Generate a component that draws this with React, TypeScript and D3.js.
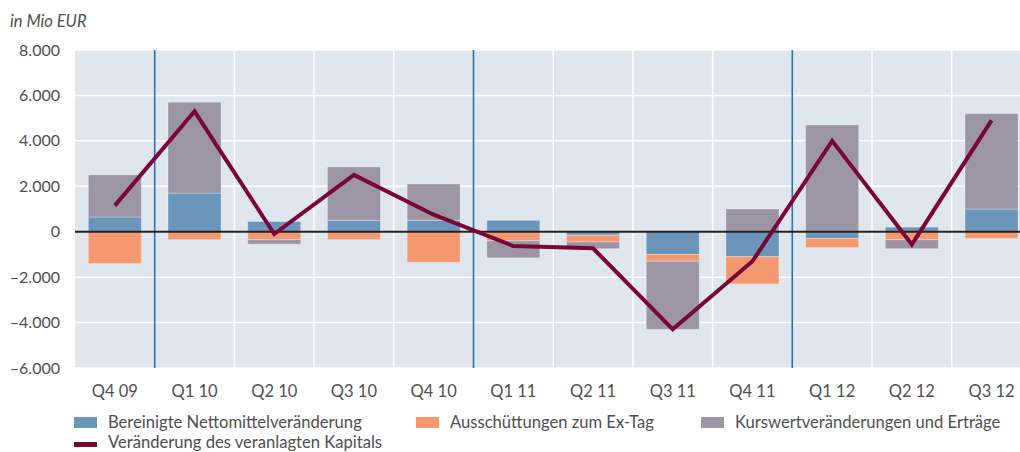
import React from "react";
import * as d3 from "d3";

const categories = ["Q4 09", "Q1 10", "Q2 10", "Q3 10", "Q4 10", "Q1 11", "Q2 11", "Q3 11", "Q4 11", "Q1 12", "Q2 12", "Q3 12"];
const netto = [650, 1700, 450, 500, 500, 500, -150, -1000, -1100, -300, 200, 1000];
const ausschuettung = [-1400, -350, -350, -350, -1350, -400, -300, -300, -1200, -400, -350, -300];
const kurswert = [1850, 4000, -200, 2350, 1600, -750, -300, -3000, 1000, 4700, -400, 4200];
const kapital = [1150, 5300, -100, 2500, 750, -630, -730, -4300, -1300, 4000, -560, 4900];
const yTicks = [-6000, -4000, -2000, 0, 2000, 4000, 6000, 8000];
const yearStarts = ["Q1 10", "Q1 11", "Q1 12"];

const seriesDefs = [
  { name: "Bereinigte Nettomittelveränderung", values: netto, color: "#6b95ba" },
  { name: "Ausschüttungen zum Ex-Tag", values: ausschuettung, color: "#f4996f" },
  { name: "Kurswertveränderungen und Erträge", values: kurswert, color: "#9c95a6" },
];
const lineName = "Veränderung des veranlagten Kapitals";

const W = 1020;
const H = 452;
const left = 75;
const top = 50;
const bottom = 368;
const bandW = 79.7;
const right = left + bandW * categories.length;
const font = "Lato, 'Open Sans', sans-serif";
const textColor = "#4f4f4f";

function fmt(v: number) {
  const s = d3.format(",")(Math.abs(v)).replace(/,/g, ".");
  return (v < 0 ? "\u2013" : "") + s;
}

export default function App() {
  const x = d3.scaleBand<string>().domain(categories).range([left, right]).paddingInner(0.335).paddingOuter(0.1675);
  const y = d3.scaleLinear().domain([-6000, 8000]).range([bottom, top]);
  const center = (c: string) => (x(c) as number) + x.bandwidth() / 2;

  const rects: any[] = [];
  categories.forEach((c, i) => {
    let pos = 0;
    let neg = 0;
    seriesDefs.forEach((s, si) => {
      const v = s.values[i];
      let y0, y1;
      if (v >= 0) {
        y0 = pos;
        y1 = pos + v;
        pos = y1;
      } else {
        y0 = neg;
        y1 = neg + v;
        neg = y1;
      }
      rects.push(
        <rect
          key={c + si}
          x={x(c)}
          width={x.bandwidth()}
          y={Math.min(y(y0), y(y1))}
          height={Math.abs(y(y0) - y(y1))}
          fill={s.color}
          stroke="rgba(255,255,255,0.3)"
          strokeWidth={1}
        />
      );
    });
  });

  const line = d3
    .line<number>()
    .x((_, i) => center(categories[i]))
    .y((d) => y(d));

  const boundaries = categories.slice(1).map((c) => ({ c, xp: x.step() * categories.indexOf(c) + left }));

  const legendRow1 = [
    { x: 74, ...seriesDefs[0] },
    { x: 416, ...seriesDefs[1] },
    { x: 701, ...seriesDefs[2] },
  ];

  return (
    <svg width={W} height={H} style={{ position: "absolute", left: 0, top: 0, background: "#fff" }} fontFamily={font}>
      <text x={10} y={27} fontSize={16.5} fontStyle="italic" fill={textColor}>
        in Mio EUR
      </text>
      <rect x={left} y={top} width={right - left} height={bottom - top} fill="#dfe6ee" />
      {yTicks.map((t) => (
        <line key={"g" + t} x1={left} x2={right} y1={y(t)} y2={y(t)} stroke="#fff" strokeWidth={1.5} />
      ))}
      {boundaries.map((b) => (
        <line
          key={"v" + b.c}
          x1={b.xp}
          x2={b.xp}
          y1={top}
          y2={bottom}
          stroke={yearStarts.includes(b.c) ? "#3173a8" : "#fff"}
          strokeWidth={yearStarts.includes(b.c) ? 1.6 : 1.5}
        />
      ))}
      {rects}
      <line x1={left} x2={right} y1={y(0)} y2={y(0)} stroke="#222" strokeWidth={2} />
      <path d={line(kapital) as string} fill="none" stroke="#7a0538" strokeWidth={4} strokeLinejoin="miter" />
      {yTicks.map((t) => (
        <text key={"yl" + t} x={60} y={y(t) + 5.5} textAnchor="end" fontSize={16} fill={textColor}>
          {fmt(t)}
        </text>
      ))}
      {categories.map((c) => (
        <text key={"xl" + c} x={center(c)} y={397} textAnchor="middle" fontSize={16.5} fill={textColor}>
          {c}
        </text>
      ))}
      {legendRow1.map((l) => (
        <g key={l.name}>
          <rect x={l.x} y={417} width={23} height={11} fill={l.color} />
          <text x={l.x + 34} y={428} fontSize={16.6} fill={textColor}>
            {l.name}
          </text>
        </g>
      ))}
      <rect x={74} y={442} width={23} height={5} fill="#7a0538" />
      <text x={108} y={447.5} fontSize={16.6} fill={textColor}>
        {lineName}
      </text>
    </svg>
  );
}
